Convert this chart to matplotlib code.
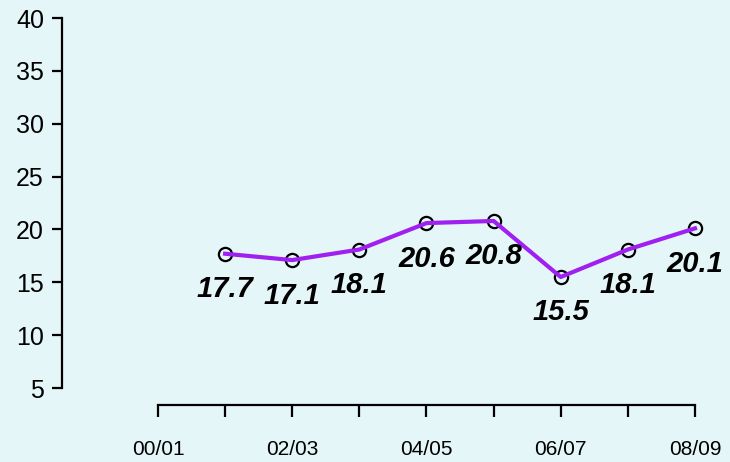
import matplotlib.pyplot as plt

plt.rcParams['font.family'] = ['Liberation Sans', 'DejaVu Sans']

seasons = ['00/01', '01/02', '02/03', '03/04', '04/05', '05/06', '06/07', '07/08', '08/09']
values = [17.7, 17.1, 18.1, 20.6, 20.8, 15.5, 18.1, 20.1]
yticks = [5, 10, 15, 20, 25, 30, 35, 40]

bg = '#e4f6f8'
fig = plt.figure(figsize=(7.3, 4.62), dpi=100, facecolor=bg)
ax = fig.add_axes([62 / 730, 57 / 462, 658 / 730, 397 / 462], facecolor=bg)

xs = list(range(1, len(values) + 1))
ax.plot(xs, values, linestyle='none', marker='o', markersize=9.5, markerfacecolor='none',
        markeredgecolor='black', markeredgewidth=1.6, zorder=2)
ax.plot(xs, values, color='#a020f0', linewidth=3, zorder=3)

for x, v in zip(xs, values):
    ax.annotate(f'{v:.1f}', (x, v), xytext=(0, -25.5), textcoords='offset points',
                ha='center', va='center', fontsize=21, fontweight='bold', style='italic')

ax.set_xlim(-1.43, 8.373)
ax.set_ylim(3.392, 40.946)

ax.spines['top'].set_visible(False)
ax.spines['right'].set_visible(False)
ax.spines['left'].set_bounds(5, 40)
ax.spines['bottom'].set_bounds(0, 8)
ax.spines['left'].set_linewidth(1.6)
ax.spines['bottom'].set_linewidth(1.6)

ax.set_yticks(yticks)
ax.set_yticklabels([str(t) for t in yticks], fontsize=18)
ax.set_xticks(range(len(seasons)))
ax.set_xticklabels([s if i % 2 == 0 else '' for i, s in enumerate(seasons)], fontsize=15)
ax.tick_params(axis='y', length=7, width=1.6, pad=6)
ax.tick_params(axis='x', length=8.5, width=1.6, pad=17)

fig.savefig('out.png', dpi=100, facecolor=bg)
